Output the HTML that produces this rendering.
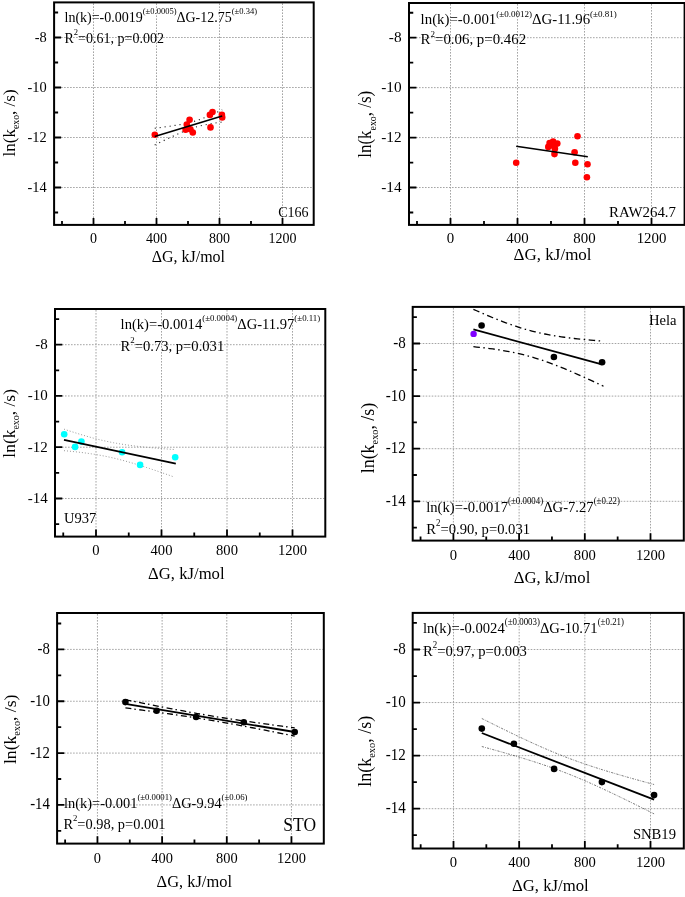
<!DOCTYPE html>
<html><head><meta charset="utf-8"><style>
html,body{margin:0;padding:0;background:#fff;width:685px;height:897px;overflow:hidden}
svg{display:block}
text{font-family:"Liberation Serif",serif}
</style></head><body>
<div style="position:absolute;left:0;top:0;will-change:transform">
<svg width="685" height="897" viewBox="0 0 685 897" fill="#000">
<rect width="685" height="897" fill="#fff"/>
<path d="M93.50,3.40V223.90M156.50,3.40V223.90M219.50,3.40V223.90M282.50,3.40V223.90" stroke="#a4a4a4" stroke-width="1" stroke-dasharray="1.6 1.4" fill="none"/>
<path d="M55.10,37.50H312.70M55.10,87.50H312.70M55.10,137.50H312.70M55.10,187.50H312.70" stroke="#a4a4a4" stroke-width="1" stroke-dasharray="1.6 1.4" fill="none"/>
<path d="M93.50,224.90V217.89M156.50,224.90V217.89M219.50,224.90V217.89M282.50,224.90V217.89M62.00,224.90V220.90M125.00,224.90V220.90M188.00,224.90V220.90M251.00,224.90V220.90M54.10,37.50H61.11M54.10,87.50H61.11M54.10,137.50H61.11M54.10,187.50H61.11M54.10,12.50H58.10M54.10,62.50H58.10M54.10,112.50H58.10M54.10,162.50H58.10M54.10,212.50H58.10" stroke="#000" stroke-width="1.8" fill="none"/>
<rect x="54.10" y="2.40" width="259.60" height="222.50" fill="none" stroke="#000" stroke-width="2"/>
<text transform="translate(93.50,243.20) scale(1.0012,1.0009)" font-size="14" text-anchor="middle">0</text>
<text transform="translate(156.50,243.20) scale(1.0012,1.0009)" font-size="14" text-anchor="middle">400</text>
<text transform="translate(219.50,243.20) scale(1.0012,1.0009)" font-size="14" text-anchor="middle">800</text>
<text transform="translate(282.50,243.20) scale(1.0012,1.0009)" font-size="14" text-anchor="middle">1200</text>
<text transform="translate(46.70,41.90) scale(1.0012,1.0509)" font-size="14.4" text-anchor="end">-8</text>
<text transform="translate(46.70,91.90) scale(1.0012,1.0509)" font-size="14.4" text-anchor="end">-10</text>
<text transform="translate(46.70,141.90) scale(1.0012,1.0509)" font-size="14.4" text-anchor="end">-12</text>
<text transform="translate(46.70,191.90) scale(1.0012,1.0509)" font-size="14.4" text-anchor="end">-14</text>
<text transform="translate(188.35,261.90) scale(1.0012,1.0009)" font-size="16" text-anchor="middle">ΔG, kJ/mol</text>
<text transform="translate(14.70,122.90) scale(1.0012,1.0009) rotate(-90)" font-size="17" text-anchor="middle">ln(k<tspan font-size="9.8" dy="4">exo</tspan><tspan dy="-4">, /s)</tspan></text>
<path d="M450.50,4.00V223.90M517.50,4.00V223.90M584.50,4.00V223.90M651.50,4.00V223.90" stroke="#a4a4a4" stroke-width="1" stroke-dasharray="1.6 1.4" fill="none"/>
<path d="M410.00,37.70H683.60M410.00,87.64H683.60M410.00,137.58H683.60M410.00,187.52H683.60" stroke="#a4a4a4" stroke-width="1" stroke-dasharray="1.6 1.4" fill="none"/>
<path d="M450.50,224.90V217.91M517.50,224.90V217.91M584.50,224.90V217.91M651.50,224.90V217.91M417.00,224.90V220.91M484.00,224.90V220.91M551.00,224.90V220.91M618.00,224.90V220.91M409.00,37.70H416.44M409.00,87.64H416.44M409.00,137.58H416.44M409.00,187.52H416.44M409.00,12.73H413.25M409.00,62.67H413.25M409.00,112.61H413.25M409.00,162.55H413.25M409.00,212.49H413.25" stroke="#000" stroke-width="1.8" fill="none"/>
<rect x="409.00" y="3.00" width="275.60" height="221.90" fill="none" stroke="#000" stroke-width="2"/>
<text transform="translate(450.50,243.20) scale(1.0629,0.9982)" font-size="14" text-anchor="middle">0</text>
<text transform="translate(517.50,243.20) scale(1.0629,0.9982)" font-size="14" text-anchor="middle">400</text>
<text transform="translate(584.50,243.20) scale(1.0629,0.9982)" font-size="14" text-anchor="middle">800</text>
<text transform="translate(651.50,243.20) scale(1.0629,0.9982)" font-size="14" text-anchor="middle">1200</text>
<text transform="translate(401.60,42.09) scale(1.0629,1.0481)" font-size="14.4" text-anchor="end">-8</text>
<text transform="translate(401.60,92.03) scale(1.0629,1.0481)" font-size="14.4" text-anchor="end">-10</text>
<text transform="translate(401.60,141.97) scale(1.0629,1.0481)" font-size="14.4" text-anchor="end">-12</text>
<text transform="translate(401.60,191.91) scale(1.0629,1.0481)" font-size="14.4" text-anchor="end">-14</text>
<text transform="translate(552.60,260.40) scale(1.0629,0.9982)" font-size="16" text-anchor="middle">ΔG, kJ/mol</text>
<text transform="translate(371.40,124.30) scale(1.0629,0.9982) rotate(-90)" font-size="17" text-anchor="middle">ln(k<tspan font-size="9.8" dy="4">exo</tspan><tspan dy="-4">, /s)</tspan></text>
<path d="M96.00,310.00V535.60M161.50,310.00V535.60M227.00,310.00V535.60M292.50,310.00V535.60" stroke="#a4a4a4" stroke-width="1" stroke-dasharray="1.6 1.4" fill="none"/>
<path d="M56.00,344.70H324.30M56.00,395.96H324.30M56.00,447.22H324.30M56.00,498.48H324.30" stroke="#a4a4a4" stroke-width="1" stroke-dasharray="1.6 1.4" fill="none"/>
<path d="M96.00,536.60V529.43M161.50,536.60V529.43M227.00,536.60V529.43M292.50,536.60V529.43M63.25,536.60V532.50M128.75,536.60V532.50M194.25,536.60V532.50M259.75,536.60V532.50M55.00,344.70H62.30M55.00,395.96H62.30M55.00,447.22H62.30M55.00,498.48H62.30M55.00,319.07H59.17M55.00,370.33H59.17M55.00,421.59H59.17M55.00,472.85H59.17M55.00,524.11H59.17" stroke="#000" stroke-width="1.8" fill="none"/>
<rect x="55.00" y="309.00" width="270.30" height="227.60" fill="none" stroke="#000" stroke-width="2"/>
<text transform="translate(96.00,555.40) scale(1.0424,1.0238)" font-size="14" text-anchor="middle">0</text>
<text transform="translate(161.50,555.40) scale(1.0424,1.0238)" font-size="14" text-anchor="middle">400</text>
<text transform="translate(227.00,555.40) scale(1.0424,1.0238)" font-size="14" text-anchor="middle">800</text>
<text transform="translate(292.50,555.40) scale(1.0424,1.0238)" font-size="14" text-anchor="middle">1200</text>
<text transform="translate(47.80,349.20) scale(1.0424,1.0750)" font-size="14.4" text-anchor="end">-8</text>
<text transform="translate(47.80,400.46) scale(1.0424,1.0750)" font-size="14.4" text-anchor="end">-10</text>
<text transform="translate(47.80,451.72) scale(1.0424,1.0750)" font-size="14.4" text-anchor="end">-12</text>
<text transform="translate(47.80,502.98) scale(1.0424,1.0750)" font-size="14.4" text-anchor="end">-14</text>
<text transform="translate(186.35,578.70) scale(1.0424,1.0238)" font-size="16" text-anchor="middle">ΔG, kJ/mol</text>
<text transform="translate(15.30,423.35) scale(1.0424,1.0238) rotate(-90)" font-size="17" text-anchor="middle">ln(k<tspan font-size="9.8" dy="4">exo</tspan><tspan dy="-4">, /s)</tspan></text>
<path d="M453.40,307.90V539.60M519.10,307.90V539.60M584.80,307.90V539.60M650.50,307.90V539.60" stroke="#a4a4a4" stroke-width="1" stroke-dasharray="1.6 1.4" fill="none"/>
<path d="M413.70,343.50H682.80M413.70,396.10H682.80M413.70,448.70H682.80M413.70,501.30H682.80" stroke="#a4a4a4" stroke-width="1" stroke-dasharray="1.6 1.4" fill="none"/>
<path d="M453.40,540.60V533.24M519.10,540.60V533.24M584.80,540.60V533.24M650.50,540.60V533.24M420.55,540.60V536.39M486.25,540.60V536.39M551.95,540.60V536.39M617.65,540.60V536.39M412.70,343.50H420.02M412.70,396.10H420.02M412.70,448.70H420.02M412.70,501.30H420.02M412.70,317.20H416.88M412.70,369.80H416.88M412.70,422.40H416.88M412.70,475.00H416.88M412.70,527.60H416.88" stroke="#000" stroke-width="1.8" fill="none"/>
<rect x="412.70" y="306.90" width="271.10" height="233.70" fill="none" stroke="#000" stroke-width="2"/>
<text transform="translate(453.40,559.80) scale(1.0455,1.0513)" font-size="14" text-anchor="middle">0</text>
<text transform="translate(519.10,559.80) scale(1.0455,1.0513)" font-size="14" text-anchor="middle">400</text>
<text transform="translate(584.80,559.80) scale(1.0455,1.0513)" font-size="14" text-anchor="middle">800</text>
<text transform="translate(650.50,559.80) scale(1.0455,1.0513)" font-size="14" text-anchor="middle">1200</text>
<text transform="translate(405.90,348.13) scale(1.0455,1.1038)" font-size="14.4" text-anchor="end">-8</text>
<text transform="translate(405.90,400.73) scale(1.0455,1.1038)" font-size="14.4" text-anchor="end">-10</text>
<text transform="translate(405.90,453.33) scale(1.0455,1.1038)" font-size="14.4" text-anchor="end">-12</text>
<text transform="translate(405.90,505.93) scale(1.0455,1.1038)" font-size="14.4" text-anchor="end">-14</text>
<text transform="translate(552.00,583.10) scale(1.0455,1.0513)" font-size="16" text-anchor="middle">ΔG, kJ/mol</text>
<text transform="translate(373.60,438.00) scale(1.0455,1.0513) rotate(-90)" font-size="17" text-anchor="middle">ln(k<tspan font-size="9.8" dy="4">exo</tspan><tspan dy="-4">, /s)</tspan></text>
<path d="M97.45,614.00V842.60M162.12,614.00V842.60M226.79,614.00V842.60M291.45,614.00V842.60" stroke="#a4a4a4" stroke-width="1" stroke-dasharray="1.6 1.4" fill="none"/>
<path d="M58.10,649.40H322.80M58.10,701.24H322.80M58.10,753.08H322.80M58.10,804.92H322.80" stroke="#a4a4a4" stroke-width="1" stroke-dasharray="1.6 1.4" fill="none"/>
<path d="M97.45,843.60V836.34M162.12,843.60V836.34M226.79,843.60V836.34M291.45,843.60V836.34M65.12,843.60V839.45M129.78,843.60V839.45M194.45,843.60V839.45M259.12,843.60V839.45M57.10,649.40H64.30M57.10,701.24H64.30M57.10,753.08H64.30M57.10,804.92H64.30M57.10,623.48H61.21M57.10,675.32H61.21M57.10,727.16H61.21M57.10,779.00H61.21M57.10,830.84H61.21" stroke="#000" stroke-width="1.8" fill="none"/>
<rect x="57.10" y="613.00" width="266.70" height="230.60" fill="none" stroke="#000" stroke-width="2"/>
<text transform="translate(97.45,862.60) scale(1.0285,1.0373)" font-size="14" text-anchor="middle">0</text>
<text transform="translate(162.12,862.60) scale(1.0285,1.0373)" font-size="14" text-anchor="middle">400</text>
<text transform="translate(226.79,862.60) scale(1.0285,1.0373)" font-size="14" text-anchor="middle">800</text>
<text transform="translate(291.45,862.60) scale(1.0285,1.0373)" font-size="14" text-anchor="middle">1200</text>
<text transform="translate(49.90,653.96) scale(1.0285,1.0892)" font-size="14.4" text-anchor="end">-8</text>
<text transform="translate(49.90,705.80) scale(1.0285,1.0892)" font-size="14.4" text-anchor="end">-10</text>
<text transform="translate(49.90,757.64) scale(1.0285,1.0892)" font-size="14.4" text-anchor="end">-12</text>
<text transform="translate(49.90,809.48) scale(1.0285,1.0892)" font-size="14.4" text-anchor="end">-14</text>
<text transform="translate(194.30,887.30) scale(1.0285,1.0373)" font-size="16" text-anchor="middle">ΔG, kJ/mol</text>
<text transform="translate(15.60,729.30) scale(1.0285,1.0373) rotate(-90)" font-size="17" text-anchor="middle">ln(k<tspan font-size="9.8" dy="4">exo</tspan><tspan dy="-4">, /s)</tspan></text>
<path d="M453.50,613.90V847.50M519.17,613.90V847.50M584.84,613.90V847.50M650.50,613.90V847.50" stroke="#a4a4a4" stroke-width="1" stroke-dasharray="1.6 1.4" fill="none"/>
<path d="M413.70,649.50H682.80M413.70,702.56H682.80M413.70,755.62H682.80M413.70,808.68H682.80" stroke="#a4a4a4" stroke-width="1" stroke-dasharray="1.6 1.4" fill="none"/>
<path d="M453.50,848.50V841.08M519.17,848.50V841.08M584.84,848.50V841.08M650.50,848.50V841.08M420.67,848.50V844.26M486.33,848.50V844.26M552.00,848.50V844.26M617.67,848.50V844.26M412.70,649.50H420.02M412.70,702.56H420.02M412.70,755.62H420.02M412.70,808.68H420.02M412.70,622.97H416.88M412.70,676.03H416.88M412.70,729.09H416.88M412.70,782.15H416.88M412.70,835.21H416.88" stroke="#000" stroke-width="1.8" fill="none"/>
<rect x="412.70" y="612.90" width="271.10" height="235.60" fill="none" stroke="#000" stroke-width="2"/>
<text transform="translate(453.50,867.00) scale(1.0455,1.0598)" font-size="14" text-anchor="middle">0</text>
<text transform="translate(519.17,867.00) scale(1.0455,1.0598)" font-size="14" text-anchor="middle">400</text>
<text transform="translate(584.84,867.00) scale(1.0455,1.0598)" font-size="14" text-anchor="middle">800</text>
<text transform="translate(650.50,867.00) scale(1.0455,1.0598)" font-size="14" text-anchor="middle">1200</text>
<text transform="translate(405.70,654.16) scale(1.0455,1.1128)" font-size="14.4" text-anchor="end">-8</text>
<text transform="translate(405.70,707.22) scale(1.0455,1.1128)" font-size="14.4" text-anchor="end">-10</text>
<text transform="translate(405.70,760.28) scale(1.0455,1.1128)" font-size="14.4" text-anchor="end">-12</text>
<text transform="translate(405.70,813.34) scale(1.0455,1.1128)" font-size="14.4" text-anchor="end">-14</text>
<text transform="translate(550.40,891.40) scale(1.0455,1.0598)" font-size="16" text-anchor="middle">ΔG, kJ/mol</text>
<text transform="translate(371.00,751.30) scale(1.0455,1.0598) rotate(-90)" font-size="17" text-anchor="middle">ln(k<tspan font-size="9.8" dy="4">exo</tspan><tspan dy="-4">, /s)</tspan></text>
<path d="M154.70,128.25 L156.39,128.03 L158.07,127.82 L159.76,127.59 L161.45,127.37 L163.14,127.14 L164.82,126.91 L166.51,126.68 L168.20,126.44 L169.89,126.20 L171.57,125.96 L173.26,125.70 L174.95,125.44 L176.64,125.17 L178.32,124.89 L180.01,124.60 L181.70,124.30 L183.39,123.98 L185.07,123.64 L186.76,123.29 L188.45,122.90 L190.14,122.49 L191.82,122.06 L193.51,121.58 L195.20,121.08 L196.89,120.54 L198.57,119.97 L200.26,119.37 L201.95,118.73 L203.64,118.08 L205.32,117.39 L207.01,116.69 L208.70,115.97 L210.39,115.24 L212.07,114.49 L213.76,113.73 L215.45,112.96 L217.14,112.19 L218.82,111.40 L220.51,110.61 L222.20,109.82" fill="none" stroke="#222" stroke-width="1.15" stroke-dasharray="1.1 3.9"/>
<path d="M154.70,144.95 L156.39,144.13 L158.07,143.31 L159.76,142.50 L161.45,141.69 L163.14,140.88 L164.82,140.08 L166.51,139.27 L168.20,138.48 L169.89,137.68 L171.57,136.89 L173.26,136.11 L174.95,135.34 L176.64,134.57 L178.32,133.82 L180.01,133.07 L181.70,132.34 L183.39,131.62 L185.07,130.93 L186.76,130.25 L188.45,129.60 L190.14,128.97 L191.82,128.37 L193.51,127.81 L195.20,127.28 L196.89,126.78 L198.57,126.32 L200.26,125.89 L201.95,125.49 L203.64,125.11 L205.32,124.76 L207.01,124.42 L208.70,124.11 L210.39,123.81 L212.07,123.52 L213.76,123.25 L215.45,122.98 L217.14,122.72 L218.82,122.47 L220.51,122.22 L222.20,121.98" fill="none" stroke="#222" stroke-width="1.15" stroke-dasharray="1.1 3.9"/>
<circle cx="154.8" cy="134.7" r="3.3" fill="#ff0000"/>
<circle cx="189.6" cy="119.7" r="3.3" fill="#ff0000"/>
<circle cx="186.8" cy="124.5" r="3.3" fill="#ff0000"/>
<circle cx="185.6" cy="129.7" r="3.3" fill="#ff0000"/>
<circle cx="190.4" cy="129.3" r="3.3" fill="#ff0000"/>
<circle cx="192.8" cy="132.5" r="3.3" fill="#ff0000"/>
<circle cx="209.9" cy="114.9" r="3.3" fill="#ff0000"/>
<circle cx="212.5" cy="112.0" r="3.3" fill="#ff0000"/>
<circle cx="210.5" cy="127.4" r="3.3" fill="#ff0000"/>
<circle cx="221.9" cy="114.9" r="3.3" fill="#ff0000"/>
<circle cx="222.2" cy="117.5" r="3.3" fill="#ff0000"/>
<path d="M154.7,136.6L222.2,115.9" stroke="#000" stroke-width="1.6" fill="none"/>
<text transform="translate(64.50,21.50) scale(1.0012,1.0409)" font-size="14">ln(k)=-0.0019<tspan font-size="8.5" dy="-7.2">(±0.0005)</tspan><tspan dy="7.2">ΔG-12.75</tspan><tspan font-size="8.5" dy="-7.2">(±0.34)</tspan></text>
<text transform="translate(64.50,42.60) scale(1.0012,1.0409)" font-size="14">R<tspan font-size="8.5" dy="-7.2">2</tspan><tspan dy="7.2">=0.61, p=0.002</tspan></text>
<text transform="translate(308.50,217.30) scale(1.0012,1.0009)" font-size="14" text-anchor="end">C166</text>
<circle cx="516.2" cy="162.8" r="3.3" fill="#ff0000"/>
<circle cx="577.5" cy="136.2" r="3.3" fill="#ff0000"/>
<circle cx="574.6" cy="152.2" r="3.3" fill="#ff0000"/>
<circle cx="575.3" cy="162.7" r="3.3" fill="#ff0000"/>
<circle cx="587.5" cy="164.2" r="3.3" fill="#ff0000"/>
<circle cx="586.9" cy="177.3" r="3.3" fill="#ff0000"/>
<circle cx="553.1" cy="141.6" r="3.3" fill="#ff0000"/>
<circle cx="549.6" cy="143.1" r="3.3" fill="#ff0000"/>
<circle cx="557.3" cy="143.6" r="3.3" fill="#ff0000"/>
<circle cx="548.3" cy="146.9" r="3.3" fill="#ff0000"/>
<circle cx="554.9" cy="148.8" r="3.3" fill="#ff0000"/>
<circle cx="554.5" cy="154.1" r="3.3" fill="#ff0000"/>
<circle cx="552.8" cy="145.6" r="3.3" fill="#ff0000"/>
<path d="M516.2,146.3L587.8,156.8" stroke="#000" stroke-width="1.6" fill="none"/>
<text transform="translate(420.60,24.00) scale(1.0629,1.0381)" font-size="14">ln(k)=-0.001<tspan font-size="8.5" dy="-7.2">(±0.0012)</tspan><tspan dy="7.2">ΔG-11.96</tspan><tspan font-size="8.5" dy="-7.2">(±0.81)</tspan></text>
<text transform="translate(420.60,44.00) scale(1.0629,1.0381)" font-size="14">R<tspan font-size="8.5" dy="-7.2">2</tspan><tspan dy="7.2">=0.06, p=0.462</tspan></text>
<text transform="translate(676.00,217.30) scale(1.0629,0.9982)" font-size="14" text-anchor="end">RAW264.7</text>
<path d="M64.00,429.14 L66.75,430.05 L69.51,430.96 L72.27,431.85 L75.02,432.73 L77.78,433.59 L80.53,434.44 L83.28,435.27 L86.04,436.07 L88.80,436.86 L91.55,437.62 L94.30,438.36 L97.06,439.08 L99.81,439.76 L102.57,440.42 L105.32,441.05 L108.08,441.64 L110.83,442.21 L113.59,442.75 L116.34,443.26 L119.10,443.74 L121.85,444.19 L124.61,444.62 L127.36,445.03 L130.12,445.41 L132.88,445.76 L135.63,446.10 L138.38,446.42 L141.14,446.73 L143.89,447.02 L146.65,447.29 L149.41,447.56 L152.16,447.81 L154.91,448.05 L157.67,448.28 L160.42,448.50 L163.18,448.71 L165.94,448.92 L168.69,449.12 L171.44,449.32 L174.20,449.50" fill="none" stroke="#8c8c8c" stroke-width="0.9" stroke-dasharray="1 2"/>
<path d="M64.00,450.66 L66.75,450.91 L69.51,451.18 L72.27,451.45 L75.02,451.74 L77.78,452.05 L80.53,452.37 L83.28,452.71 L86.04,453.07 L88.80,453.45 L91.55,453.86 L94.30,454.29 L97.06,454.74 L99.81,455.22 L102.57,455.73 L105.32,456.27 L108.08,456.84 L110.83,457.44 L113.59,458.07 L116.34,458.73 L119.10,459.42 L121.85,460.13 L124.61,460.87 L127.36,461.64 L130.12,462.43 L132.88,463.24 L135.63,464.07 L138.38,464.91 L141.14,465.78 L143.89,466.66 L146.65,467.55 L149.41,468.45 L152.16,469.37 L154.91,470.30 L157.67,471.24 L160.42,472.18 L163.18,473.14 L165.94,474.10 L168.69,475.06 L171.44,476.04 L174.20,477.02" fill="none" stroke="#8c8c8c" stroke-width="0.9" stroke-dasharray="1 2"/>
<circle cx="64.2" cy="434.2" r="3.3" fill="#00ffff"/>
<circle cx="81.4" cy="441.6" r="3.3" fill="#00ffff"/>
<circle cx="75.1" cy="446.9" r="3.3" fill="#00ffff"/>
<circle cx="122.1" cy="452.3" r="3.3" fill="#00ffff"/>
<circle cx="140.1" cy="464.9" r="3.3" fill="#00ffff"/>
<circle cx="175.2" cy="457.2" r="3.3" fill="#00ffff"/>
<path d="M64,439.9L175.8,463.6" stroke="#000" stroke-width="1.6" fill="none"/>
<text transform="translate(120.60,329.00) scale(1.0424,1.0648)" font-size="14">ln(k)=-0.0014<tspan font-size="8.5" dy="-7.2">(±0.0004)</tspan><tspan dy="7.2">ΔG-11.97</tspan><tspan font-size="8.5" dy="-7.2">(±0.11)</tspan></text>
<text transform="translate(120.60,350.90) scale(1.0424,1.0648)" font-size="14">R<tspan font-size="8.5" dy="-7.2">2</tspan><tspan dy="7.2">=0.73, p=0.031</tspan></text>
<text transform="translate(64.00,523.20) scale(1.0424,1.0238)" font-size="14">U937</text>
<path d="M473.40,309.30 L476.65,310.75 L479.90,312.19 L483.16,313.61 L486.41,315.01 L489.66,316.38 L492.91,317.73 L496.17,319.05 L499.42,320.34 L502.67,321.60 L505.92,322.82 L509.18,324.00 L512.43,325.14 L515.68,326.24 L518.93,327.29 L522.19,328.30 L525.44,329.26 L528.69,330.17 L531.94,331.03 L535.20,331.85 L538.45,332.61 L541.70,333.33 L544.96,334.01 L548.21,334.64 L551.46,335.24 L554.71,335.79 L557.97,336.31 L561.22,336.80 L564.47,337.26 L567.72,337.69 L570.98,338.09 L574.23,338.48 L577.48,338.84 L580.73,339.18 L583.99,339.50 L587.24,339.81 L590.49,340.10 L593.74,340.38 L597.00,340.65 L600.25,340.91 L603.50,341.15" fill="none" stroke="#000" stroke-width="1.3" stroke-dasharray="6.5 3.5 1.5 3.5"/>
<path d="M473.40,346.70 L476.65,347.03 L479.90,347.38 L483.16,347.74 L486.41,348.13 L489.66,348.54 L492.91,348.98 L496.17,349.44 L499.42,349.94 L502.67,350.47 L505.92,351.03 L509.18,351.64 L512.43,352.28 L515.68,352.96 L518.93,353.70 L522.19,354.47 L525.44,355.30 L528.69,356.17 L531.94,357.10 L535.20,358.07 L538.45,359.09 L541.70,360.15 L544.96,361.26 L548.21,362.41 L551.46,363.60 L554.71,364.83 L557.97,366.10 L561.22,367.40 L564.47,368.72 L567.72,370.08 L570.98,371.46 L574.23,372.86 L577.48,374.28 L580.73,375.73 L583.99,377.19 L587.24,378.66 L590.49,380.16 L593.74,381.66 L597.00,383.18 L600.25,384.71 L603.50,386.25" fill="none" stroke="#000" stroke-width="1.3" stroke-dasharray="6.5 3.5 1.5 3.5"/>
<circle cx="481.6" cy="325.5" r="3.3" fill="#000"/>
<circle cx="553.9" cy="357.0" r="3.3" fill="#000"/>
<circle cx="602.1" cy="362.3" r="3.3" fill="#000"/>
<path d="M473.4,329.4L601.8,364.4" stroke="#000" stroke-width="1.7" fill="none"/>
<circle cx="473.6" cy="333.9" r="3.2" fill="#8000ff"/>
<text transform="translate(426.20,511.80) scale(1.0455,1.0933)" font-size="14">ln(k)=-0.0017<tspan font-size="8.5" dy="-7.2">(±0.0004)</tspan><tspan dy="7.2">ΔG-7.27</tspan><tspan font-size="8.5" dy="-7.2">(±0.22)</tspan></text>
<text transform="translate(426.20,534.00) scale(1.0455,1.0933)" font-size="14">R<tspan font-size="8.5" dy="-7.2">2</tspan><tspan dy="7.2">=0.90, p=0.031</tspan></text>
<text transform="translate(676.50,325.40) scale(1.0455,1.0513)" font-size="14" text-anchor="end">Hela</text>
<path d="M125.40,699.68 L129.63,700.53 L133.87,701.38 L138.10,702.22 L142.33,703.07 L146.56,703.91 L150.80,704.74 L155.03,705.58 L159.26,706.40 L163.49,707.23 L167.72,708.04 L171.96,708.85 L176.19,709.66 L180.42,710.45 L184.66,711.23 L188.89,712.01 L193.12,712.77 L197.35,713.52 L201.58,714.26 L205.82,714.99 L210.05,715.70 L214.28,716.40 L218.51,717.08 L222.75,717.75 L226.98,718.41 L231.21,719.06 L235.44,719.69 L239.68,720.32 L243.91,720.93 L248.14,721.54 L252.38,722.14 L256.61,722.73 L260.84,723.32 L265.07,723.90 L269.31,724.48 L273.54,725.05 L277.77,725.62 L282.00,726.19 L286.24,726.75 L290.47,727.31 L294.70,727.87" fill="none" stroke="#000" stroke-width="1.3" stroke-dasharray="6 3 1.5 3.5"/>
<path d="M125.40,707.92 L129.63,708.48 L133.87,709.04 L138.10,709.61 L142.33,710.17 L146.56,710.74 L150.80,711.32 L155.03,711.89 L159.26,712.48 L163.49,713.06 L167.72,713.66 L171.96,714.26 L176.19,714.86 L180.42,715.48 L184.66,716.11 L188.89,716.74 L193.12,717.39 L197.35,718.05 L201.58,718.72 L205.82,719.40 L210.05,720.10 L214.28,720.81 L218.51,721.54 L222.75,722.28 L226.98,723.03 L231.21,723.79 L235.44,724.57 L239.68,725.35 L243.91,726.15 L248.14,726.95 L252.38,727.76 L256.61,728.58 L260.84,729.40 L265.07,730.23 L269.31,731.06 L273.54,731.90 L277.77,732.74 L282.00,733.58 L286.24,734.43 L290.47,735.28 L294.70,736.13" fill="none" stroke="#000" stroke-width="1.3" stroke-dasharray="6 3 1.5 3.5"/>
<circle cx="125.4" cy="702.1" r="3.3" fill="#000"/>
<circle cx="156.6" cy="710.8" r="3.3" fill="#000"/>
<circle cx="196.1" cy="717.0" r="3.3" fill="#000"/>
<circle cx="243.8" cy="722.2" r="3.3" fill="#000"/>
<circle cx="294.7" cy="732.0" r="3.3" fill="#000"/>
<path d="M125.4,703.8L294.7,732.0" stroke="#000" stroke-width="1.8" fill="none"/>
<text transform="translate(64.10,808.10) scale(1.0285,1.0788)" font-size="14">ln(k)=-0.001<tspan font-size="8.5" dy="-7.2">(±0.0001)</tspan><tspan dy="7.2">ΔG-9.94</tspan><tspan font-size="8.5" dy="-7.2">(±0.06)</tspan></text>
<text transform="translate(63.40,829.20) scale(1.0285,1.0788)" font-size="14">R<tspan font-size="8.5" dy="-7.2">2</tspan><tspan dy="7.2">=0.98, p=0.001</tspan></text>
<text transform="translate(316.00,831.00) scale(1.0285,1.1411)" font-size="17" text-anchor="end">STO</text>
<path d="M481.80,718.49 L486.11,720.65 L490.42,722.79 L494.72,724.93 L499.03,727.06 L503.34,729.17 L507.65,731.27 L511.95,733.36 L516.26,735.43 L520.57,737.47 L524.88,739.50 L529.18,741.50 L533.49,743.47 L537.80,745.41 L542.11,747.32 L546.41,749.20 L550.72,751.03 L555.03,752.82 L559.34,754.57 L563.64,756.28 L567.95,757.94 L572.26,759.56 L576.57,761.13 L580.87,762.65 L585.18,764.14 L589.49,765.59 L593.80,767.01 L598.10,768.39 L602.41,769.74 L606.72,771.07 L611.02,772.37 L615.33,773.65 L619.64,774.91 L623.95,776.16 L628.25,777.39 L632.56,778.60 L636.87,779.81 L641.18,781.00 L645.49,782.19 L649.79,783.36 L654.10,784.53" fill="none" stroke="#505050" stroke-width="0.75" stroke-dasharray="2.2 1.2 0.8 1.2"/>
<path d="M481.80,746.51 L486.11,747.69 L490.42,748.88 L494.72,750.07 L499.03,751.28 L503.34,752.50 L507.65,753.74 L511.95,754.99 L516.26,756.25 L520.57,757.54 L524.88,758.85 L529.18,760.19 L533.49,761.55 L537.80,762.94 L542.11,764.37 L546.41,765.83 L550.72,767.33 L555.03,768.87 L559.34,770.46 L563.64,772.09 L567.95,773.76 L572.26,775.48 L576.57,777.24 L580.87,779.05 L585.18,780.90 L589.49,782.78 L593.80,784.70 L598.10,786.66 L602.41,788.64 L606.72,790.65 L611.02,792.68 L615.33,794.73 L619.64,796.81 L623.95,798.90 L628.25,801.00 L632.56,803.12 L636.87,805.25 L641.18,807.39 L645.49,809.54 L649.79,811.70 L654.10,813.87" fill="none" stroke="#505050" stroke-width="0.75" stroke-dasharray="2.2 1.2 0.8 1.2"/>
<circle cx="481.8" cy="728.6" r="3.3" fill="#000"/>
<circle cx="513.9" cy="743.7" r="3.3" fill="#000"/>
<circle cx="554.1" cy="768.9" r="3.3" fill="#000"/>
<circle cx="601.9" cy="782.1" r="3.3" fill="#000"/>
<circle cx="654.1" cy="795.1" r="3.3" fill="#000"/>
<path d="M481.8,733.0L654.1,799.7" stroke="#000" stroke-width="1.8" fill="none"/>
<text transform="translate(423.00,632.50) scale(1.0455,1.1022)" font-size="14">ln(k)=-0.0024<tspan font-size="8.5" dy="-7.2">(±0.0003)</tspan><tspan dy="7.2">ΔG-10.71</tspan><tspan font-size="8.5" dy="-7.2">(±0.21)</tspan></text>
<text transform="translate(423.00,655.60) scale(1.0455,1.1022)" font-size="14">R<tspan font-size="8.5" dy="-7.2">2</tspan><tspan dy="7.2">=0.97, p=0.003</tspan></text>
<text transform="translate(676.00,838.70) scale(1.0455,1.0598)" font-size="14" text-anchor="end">SNB19</text>
</svg>
</div>
</body></html>
